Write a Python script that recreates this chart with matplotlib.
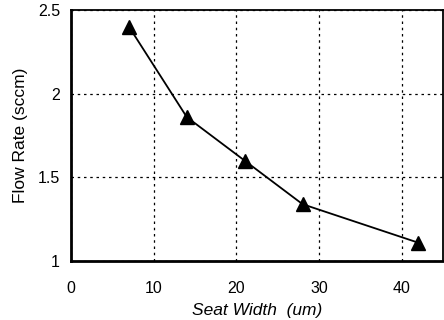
import matplotlib
matplotlib.use("Agg")
import matplotlib.pyplot as plt

# seat width (um) vs flow rate (sccm)
seat_width = [7, 14, 21, 28, 42]
flow_rate = [2.40, 1.86, 1.60, 1.34, 1.11]
x_ticks = [0, 10, 20, 30, 40]
y_ticks = [1, 1.5, 2, 2.5]
y_tick_labels = ["1", "1.5", "2", "2.5"]

plt.rcParams['font.family'] = ['Liberation Sans', 'DejaVu Sans']

fig = plt.figure(figsize=(4.44, 3.2), dpi=100)
ax = fig.add_axes([0.16, 0.184, 0.838, 0.785])

ax.plot(seat_width, flow_rate, color='black', lw=1.3, marker='^', ms=10,
        markerfacecolor='black', markeredgecolor='black', zorder=3)

ax.set_xlim(0, 45)
ax.set_ylim(1, 2.5)
ax.set_xticks(x_ticks)
ax.set_yticks(y_ticks)
ax.set_yticklabels(y_tick_labels)
ax.grid(True, color='black', linestyle=(0, (2, 3)), lw=0.9)
ax.tick_params(axis='x', length=0, labelsize=11.5, pad=14)
ax.tick_params(axis='y', length=0, labelsize=11.5, pad=8)

for s in ['left', 'bottom']:
    ax.spines[s].set_linewidth(2)
for s in ['top', 'right']:
    ax.spines[s].set_linewidth(1.3)

ax.set_xlabel("Seat Width  (um)", fontsize=12.5, fontstyle='italic', labelpad=5)
ax.set_ylabel("Flow Rate (sccm)", fontsize=12.5, labelpad=7)

fig.savefig("out.png", dpi=100)
